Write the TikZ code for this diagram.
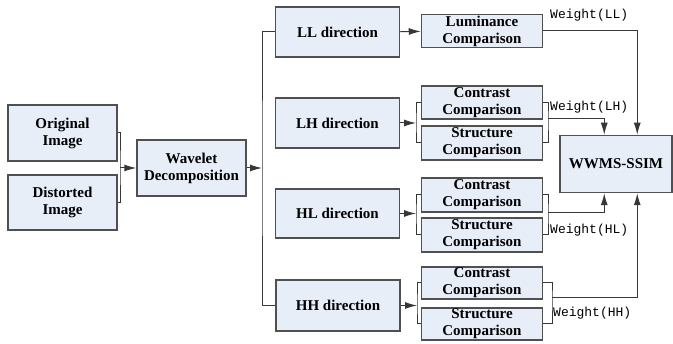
\documentclass[tikz,border=0pt]{standalone}
\usepackage{fontspec}
\setmainfont{Liberation Serif}
\newfontfamily\weightfont{Liberation Mono}
\usetikzlibrary{arrows.meta}
\definecolor{boxfill}{RGB}{232,238,248}
\definecolor{boxline}{RGB}{80,80,80}
\definecolor{wirecol}{RGB}{55,55,55}

\begin{document}
\begin{tikzpicture}[x=1pt, y=-1pt,
        box/.style={draw=boxline, line width=1.5pt, fill=boxfill, align=center, inner sep=0pt,
            font=\fontsize{15}{17}\selectfont\bfseries},
        wire/.style={draw=wirecol, line width=1pt},
        arr/.style={wire, -{Latex[length=12pt,width=7pt]}},
        wlabel/.style={anchor=west, inner sep=0pt, font=\fontsize{13}{15}\selectfont\weightfont}]
        \useasboundingbox (0,0) rectangle (673,344);

        % inputs and decomposition
        \node[box, minimum width=109, minimum height=56] (orig) at (62.5,133) {Original\\Image};
        \node[box, minimum width=109, minimum height=55] (dist) at (62.5,202.5) {Distorted\\Image};
        \node[box, minimum width=109, minimum height=56] (wave) at (191.5,168) {Wavelet\\Decomposition};

        % directions
        \node[box, minimum width=124, minimum height=50] (LL) at (337.5,32) {LL direction};
        \node[box, minimum width=124, minimum height=50] (LH) at (337.5,123) {LH direction};
        \node[box, minimum width=124, minimum height=49] (HL) at (337.5,213.5) {HL direction};
        \node[box, minimum width=124, minimum height=51] (HH) at (338,305.5) {HH direction};

        % comparisons
        \node[box, minimum width=121, minimum height=33] (lum) at (482,31) {Luminance\\Comparison};
        \node[box, minimum width=121, minimum height=33] (lhc) at (482,102.5) {Contrast\\Comparison};
        \node[box, minimum width=121, minimum height=34] (lhs) at (482,143) {Structure\\Comparison};
        \node[box, minimum width=121, minimum height=34] (hlc) at (482,195) {Contrast\\Comparison};
        \node[box, minimum width=121, minimum height=34] (hls) at (482,235) {Structure\\Comparison};
        \node[box, minimum width=121, minimum height=32] (hhc) at (482,283) {Contrast\\Comparison};
        \node[box, minimum width=121, minimum height=32] (hhs) at (482,324) {Structure\\Comparison};

        \node[box, minimum width=112, minimum height=57] (ssim) at (616,164) {WWMS-SSIM};

        % junctions
        \coordinate (inj) at (120,168);
        \coordinate (bus) at (262,168);
        \coordinate (lhj) at (416,123);
        \coordinate (hlj) at (416,213.5);
        \coordinate (hhj) at (417,305.5);
        \coordinate (lhk) at (548,119);
        \coordinate (hlk) at (548,213);
        \coordinate (hhk) at (552,298);

        \draw[wire] (orig.east) -| (inj) |- (dist.east);
        \draw[arr] (inj) -- (wave);
        \draw[arr] (wave) -- (bus);
        \draw[wire] (LL.west) -| (bus) |- (HH.west);

        \draw[arr] (LL) -- (lum);
        \draw[arr] (LH) -- (lhj);
        \draw[wire] (lhc.west) -| (lhj) |- (lhs.west);
        \draw[arr] (HL) -- (hlj);
        \draw[wire] (hlc.west) -| (hlj) |- (hls.west);
        \draw[arr] (HH) -- (hhj);
        \draw[wire] (hhc.west) -| (hhj) |- (hhs.west);

        \draw[wire] (lhc.east) -| (lhk) |- (lhs.east);
        \draw[wire] (hlc.east) -| (hlk) |- (hls.east);
        \draw[wire] (hhc.east) -| (hhk) |- (hhs.east);

        \draw[arr] (lum.east) -| ([xshift=78pt]ssim.north west);
        \draw[arr] (lhk) -| ([xshift=45pt]ssim.north west);
        \draw[arr] (hlk) -| ([xshift=45pt]ssim.south west);
        \draw[arr] (hhk) -| ([xshift=78pt]ssim.south west);

        % weights
        \node[wlabel] (wll) at (550,15) {Weight(LL)};
        \node[wlabel] (wlh) at (550,107) {Weight(LH)};
        \node[wlabel] (whl) at (550,230) {Weight(HL)};
        \node[wlabel] (whh) at (553,313) {Weight(HH)};
\end{tikzpicture}
\end{document}
